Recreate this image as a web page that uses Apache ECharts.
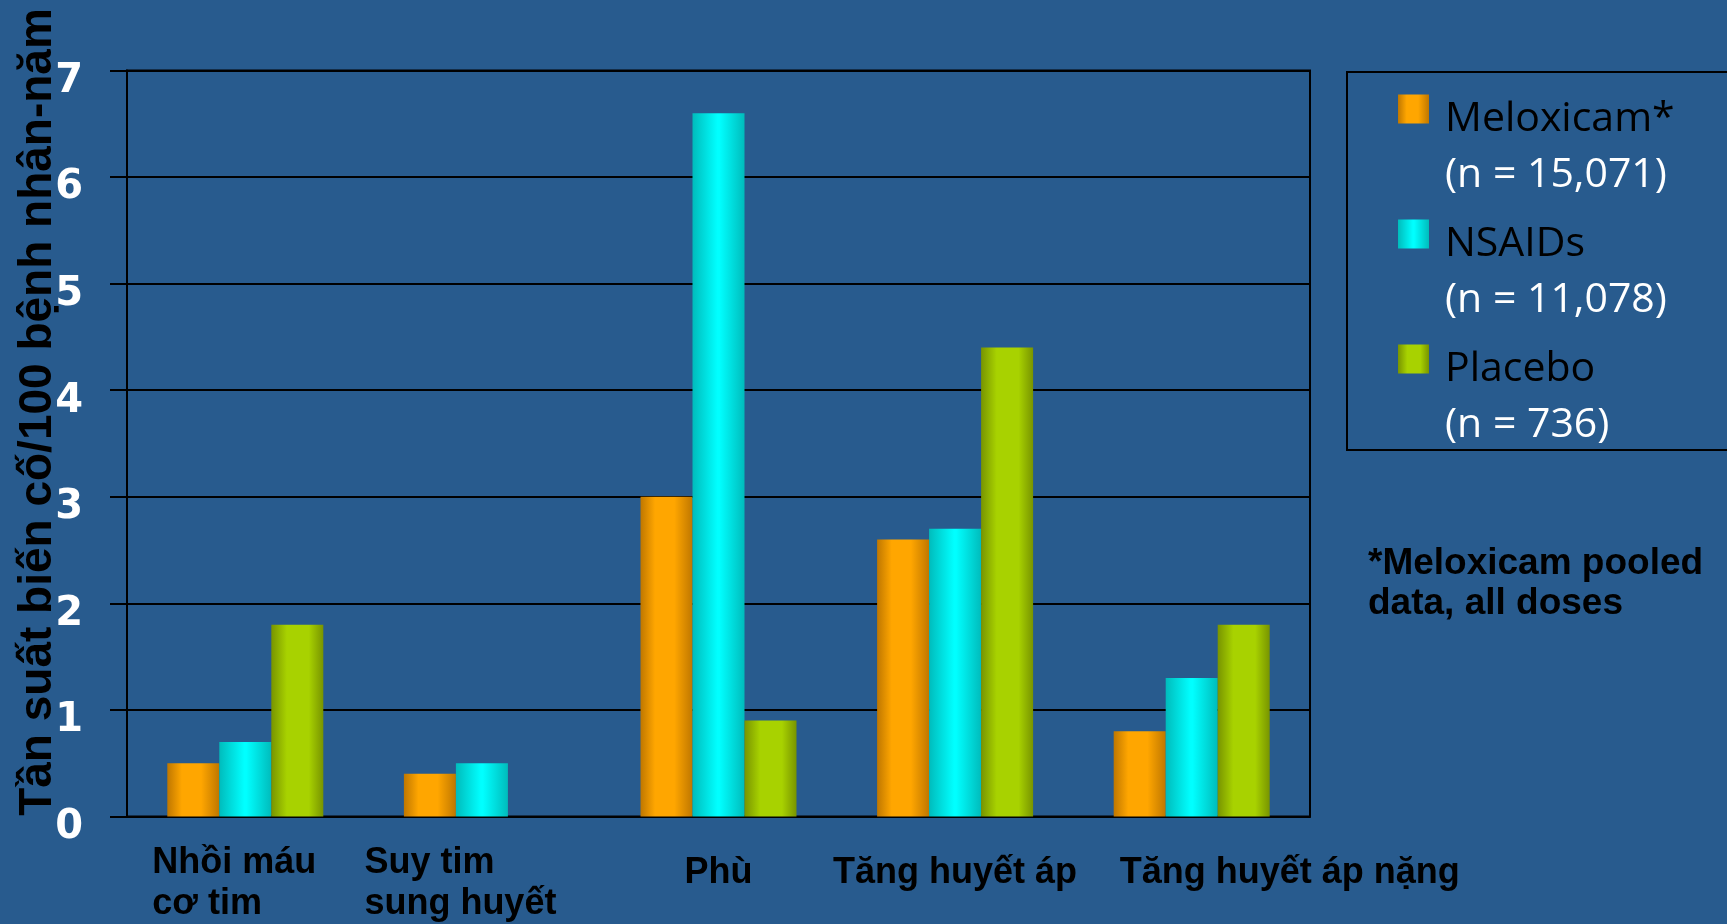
<!DOCTYPE html>
<html>
<head>
<meta charset="utf-8">
<script src="https://cdn.jsdelivr.net/npm/echarts@6/dist/echarts.min.js"></script>
<style>
  html, body { margin: 0; padding: 0; background: #285b8e; }
  #chart { width: 1727px; height: 924px; }
</style>
</head>
<body>
<div id="chart"></div>
<script>
// số liệu
const categories = ['Nhồi máu\ncơ tim', 'Suy tim\nsung huyết', 'Phù', 'Tăng huyết áp', 'Tăng huyết áp nặng']
const meloxicam = [0.5, 0.4, 3.0, 2.6, 0.8]
const nsaids = [0.7, 0.5, 6.6, 2.7, 1.3]
const placebo = [1.8, null, 0.9, 4.4, 1.8]
const seriesNames = ['Meloxicam*', 'NSAIDs', 'Placebo']
const sampleSizes = ['(n = 15,071)', '(n = 11,078)', '(n = 736)']
const yTitle = 'Tần suất biến cố/100 bệnh nhân-năm'
const footnote = '*Meloxicam pooled\ndata, all doses'

// căn chỉnh nhãn trục x (px)
const labelPad = [[20, 22, 0, 0], [20, 43, 0, 0], [0, 0, 0, 0], [0, 0, 0, 0], [0, 0, 0, 196]]

const grad = (edge, mid, a, b) => new echarts.graphic.LinearGradient(0, 0, 1, 0, [
    { offset: 0, color: edge },
    { offset: a, color: mid },
    { offset: b, color: mid },
    { offset: 1, color: edge }
])
const colors = [
    grad('#bf7700', '#ffa600', 0.28, 0.65),
    grad('#00bcbc', '#00ffff', 0.48, 0.52),
    grad('#789400', '#a8d200', 0.3, 0.72)
]
const values = [meloxicam, nsaids, placebo]

const labelRich = {}
labelPad.forEach((p, i) => {
    labelRich['c' + i] = {
        align: 'left',
        color: '#000',
        fontSize: 36,
        fontWeight: 'bold',
        fontFamily: '"Liberation Sans", Arial, sans-serif',
        lineHeight: 41,
        padding: p
    }
})

const chart = echarts.init(document.getElementById('chart'))
chart.setOption({
    backgroundColor: '#285b8e',
    animation: false,
    grid: {
        left: 127, top: 70.5, right: 417, bottom: 107.5,
        containLabel: false,
        outerBoundsMode: 'none',
        show: true,
        borderColor: '#000',
        borderWidth: 2
    },
    legend: {
        orient: 'vertical',
        left: 1398,
        top: 94.5,
        padding: 0,
        itemWidth: 31,
        itemHeight: 29,
        itemGap: 24,
        icon: 'rect',
        selectedMode: false,
        data: seriesNames,
        formatter: name => `{a|${name}}\n{b|${sampleSizes[seriesNames.indexOf(name)]}}`,
        textStyle: {
            padding: [76, 0, 0, 11],
            rich: {
                a: { color: '#000', fontSize: 41, fontFamily: '"Open Sans", sans-serif', lineHeight: 56 },
                b: { color: '#fff', fontSize: 41, fontFamily: '"Open Sans", sans-serif', lineHeight: 56 }
            }
        }
    },
    xAxis: {
        type: 'category',
        data: categories,
        axisLine: { lineStyle: { color: '#000', width: 2 } },
        axisTick: { show: false },
        axisLabel: {
            interval: 0,
            margin: 57,
            verticalAlign: 'middle',
            formatter: (value, idx) => value.split('\n').map(l => `{c${idx}|${l}}`).join('\n'),
            rich: labelRich
        }
    },
    yAxis: {
        type: 'value',
        min: 0,
        max: 7,
        interval: 1,
        axisLine: { show: true, lineStyle: { color: '#000', width: 2 } },
        axisTick: { show: true, length: 17, lineStyle: { color: '#000', width: 2 } },
        splitLine: { lineStyle: { color: '#000', width: 2 } },
        axisLabel: {
            margin: 44,
            color: '#fff',
            fontSize: 40,
            fontWeight: 'bold',
            fontFamily: '"DejaVu Sans", Verdana, sans-serif',
            verticalAlign: 'top',
            lineHeight: 22
        }
    },
    series: seriesNames.map((name, i) => ({
        name,
        type: 'bar',
        data: values[i],
        barWidth: 52,
        barGap: '0%',
        itemStyle: { color: colors[i] }
    })),
    graphic: [
        {
            type: 'text',
            x: 38,
            y: 412,
            rotation: Math.PI / 2,
            style: {
                text: yTitle,
                fill: '#000',
                font: 'bold 46px "Liberation Sans", Arial, sans-serif',
                align: 'center',
                verticalAlign: 'middle'
            }
        },
        {
            type: 'rect',
            shape: { x: 1347, y: 72, width: 420, height: 378 },
            style: { fill: 'none', stroke: '#000', lineWidth: 2 }
        },
        {
            type: 'text',
            x: 1368,
            y: 543.5,
            style: {
                text: footnote,
                fill: '#000',
                font: 'bold 37px "Liberation Sans", Arial, sans-serif',
                lineHeight: 40,
                verticalAlign: 'top'
            }
        }
    ]
})
</script>
</body>
</html>
